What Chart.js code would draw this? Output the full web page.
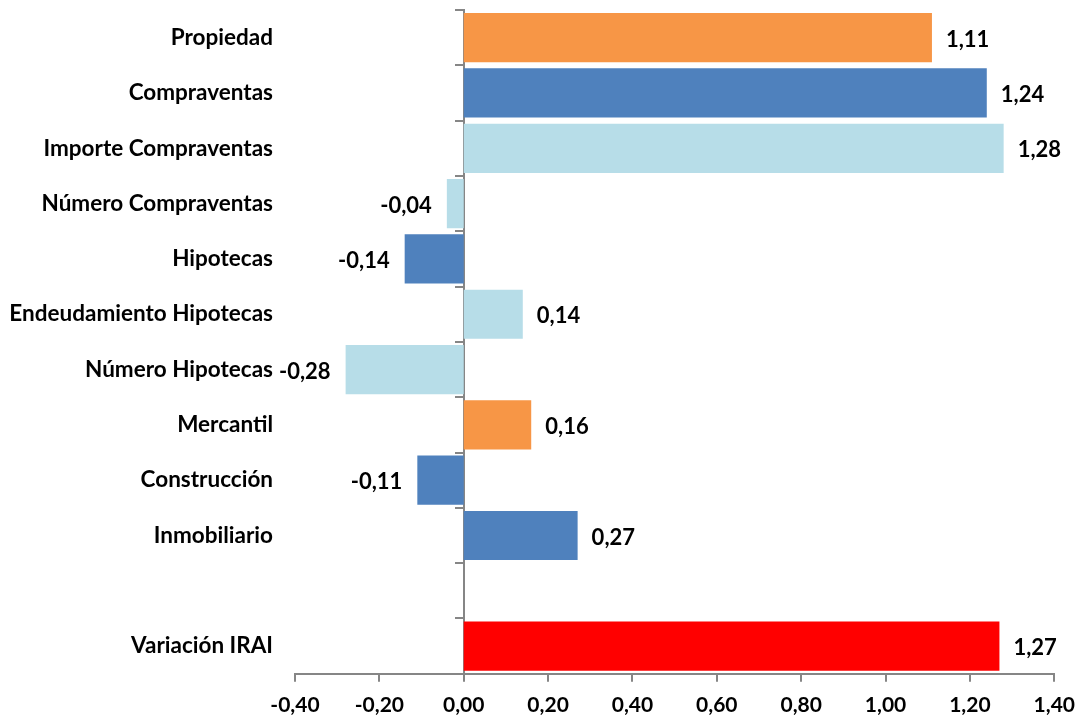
<!DOCTYPE html>
<html>
<head>
<meta charset="utf-8">
<script src="https://cdn.jsdelivr.net/npm/chart.js@4/dist/chart.umd.min.js"></script>
<style>
  html, body { margin: 0; padding: 0; background: #fff; }
  #wrap { width: 1086px; height: 720px; }
</style>
</head>
<body>
<div id="wrap"><canvas id="myChart"></canvas></div>
<script>
const categorias = ['Propiedad', 'Compraventas', 'Importe Compraventas', 'Número Compraventas',
    'Hipotecas', 'Endeudamiento Hipotecas', 'Número Hipotecas', 'Mercantil',
    'Construcción', 'Inmobiliario', '', 'Variación IRAI'];
const valores = [1.11, 1.24, 1.28, -0.04, -0.14, 0.14, -0.28, 0.16, -0.11, 0.27, null, 1.27];
const colores = ['#F79646', '#4F81BD', '#B7DDE8', '#B7DDE8', '#4F81BD', '#B7DDE8',
    '#B7DDE8', '#F79646', '#4F81BD', '#4F81BD', '#FFFFFF', '#FF0000'];
const ejeMin = -0.4;
const ejeMax = 1.4;
const paso = 0.2;

const fmt = v => (Math.abs(v) < 1e-9 ? 0 : v).toFixed(2).replace('.', ',');
const fuente = 'Lato, "Open Sans", sans-serif';

// etiquetas de valor junto a cada barra
const etiquetas = {
    id: 'etiquetas',
    afterDatasetsDraw(chart) {
        const ctx = chart.ctx;
        const meta = chart.getDatasetMeta(0);
        ctx.save();
        ctx.font = 'bold 22px ' + fuente;
        ctx.fillStyle = '#000';
        ctx.textBaseline = 'middle';
        meta.data.forEach(function (bar, i) {
            const v = valores[i];
            if (v === null) return;
            if (v >= 0) {
                ctx.textAlign = 'left';
                ctx.fillText(fmt(v), bar.x + 14, bar.y + 2);
            } else {
                ctx.textAlign = 'right';
                ctx.fillText(fmt(v), bar.x - 15, bar.y + 2);
            }
        });
        ctx.restore();
    }
};

const ctx = document.getElementById('myChart').getContext('2d');
const myChart = new Chart(ctx, {
    type: 'bar',
    data: {
        labels: categorias,
        datasets: [{
            data: valores,
            backgroundColor: colores,
            barPercentage: 0.89,
            categoryPercentage: 1
        }]
    },
    options: {
        indexAxis: 'y',
        responsive: true,
        maintainAspectRatio: false,
        animation: false,
        layout: { padding: { top: 10, right: 28, left: 2, bottom: -9 } },
        plugins: {
            legend: { display: false },
            tooltip: { enabled: false }
        },
        scales: {
            x: {
                min: ejeMin,
                max: ejeMax,
                ticks: {
                    stepSize: paso,
                    color: '#000',
                    font: { family: fuente, size: 21, weight: 'bold' },
                    padding: 11,
                    callback: v => fmt(v)
                },
                grid: { drawOnChartArea: false, color: '#868686', lineWidth: 2, tickLength: 8 },
                border: { color: '#868686', width: 2 }
            },
            y: {
                ticks: {
                    color: '#000',
                    font: { family: fuente, size: 22.5, weight: 'bold' },
                    padding: 22
                },
                grid: { display: false, drawTicks: false },
                border: { display: false },
                afterFit: function (scale) {
                    scale.width = 293;
                    scale.paddingTop = 0;
                    scale.paddingBottom = 0;
                }
            },
            y0: {
                type: 'category',
                position: { x: 0 },
                offset: true,
                ticks: { display: false },
                grid: { offset: true, drawOnChartArea: false, color: '#868686', lineWidth: 2, tickLength: 8 },
                border: { color: '#868686', width: 2 }
            }
        }
    },
    plugins: [etiquetas]
});
</script>
</body>
</html>
